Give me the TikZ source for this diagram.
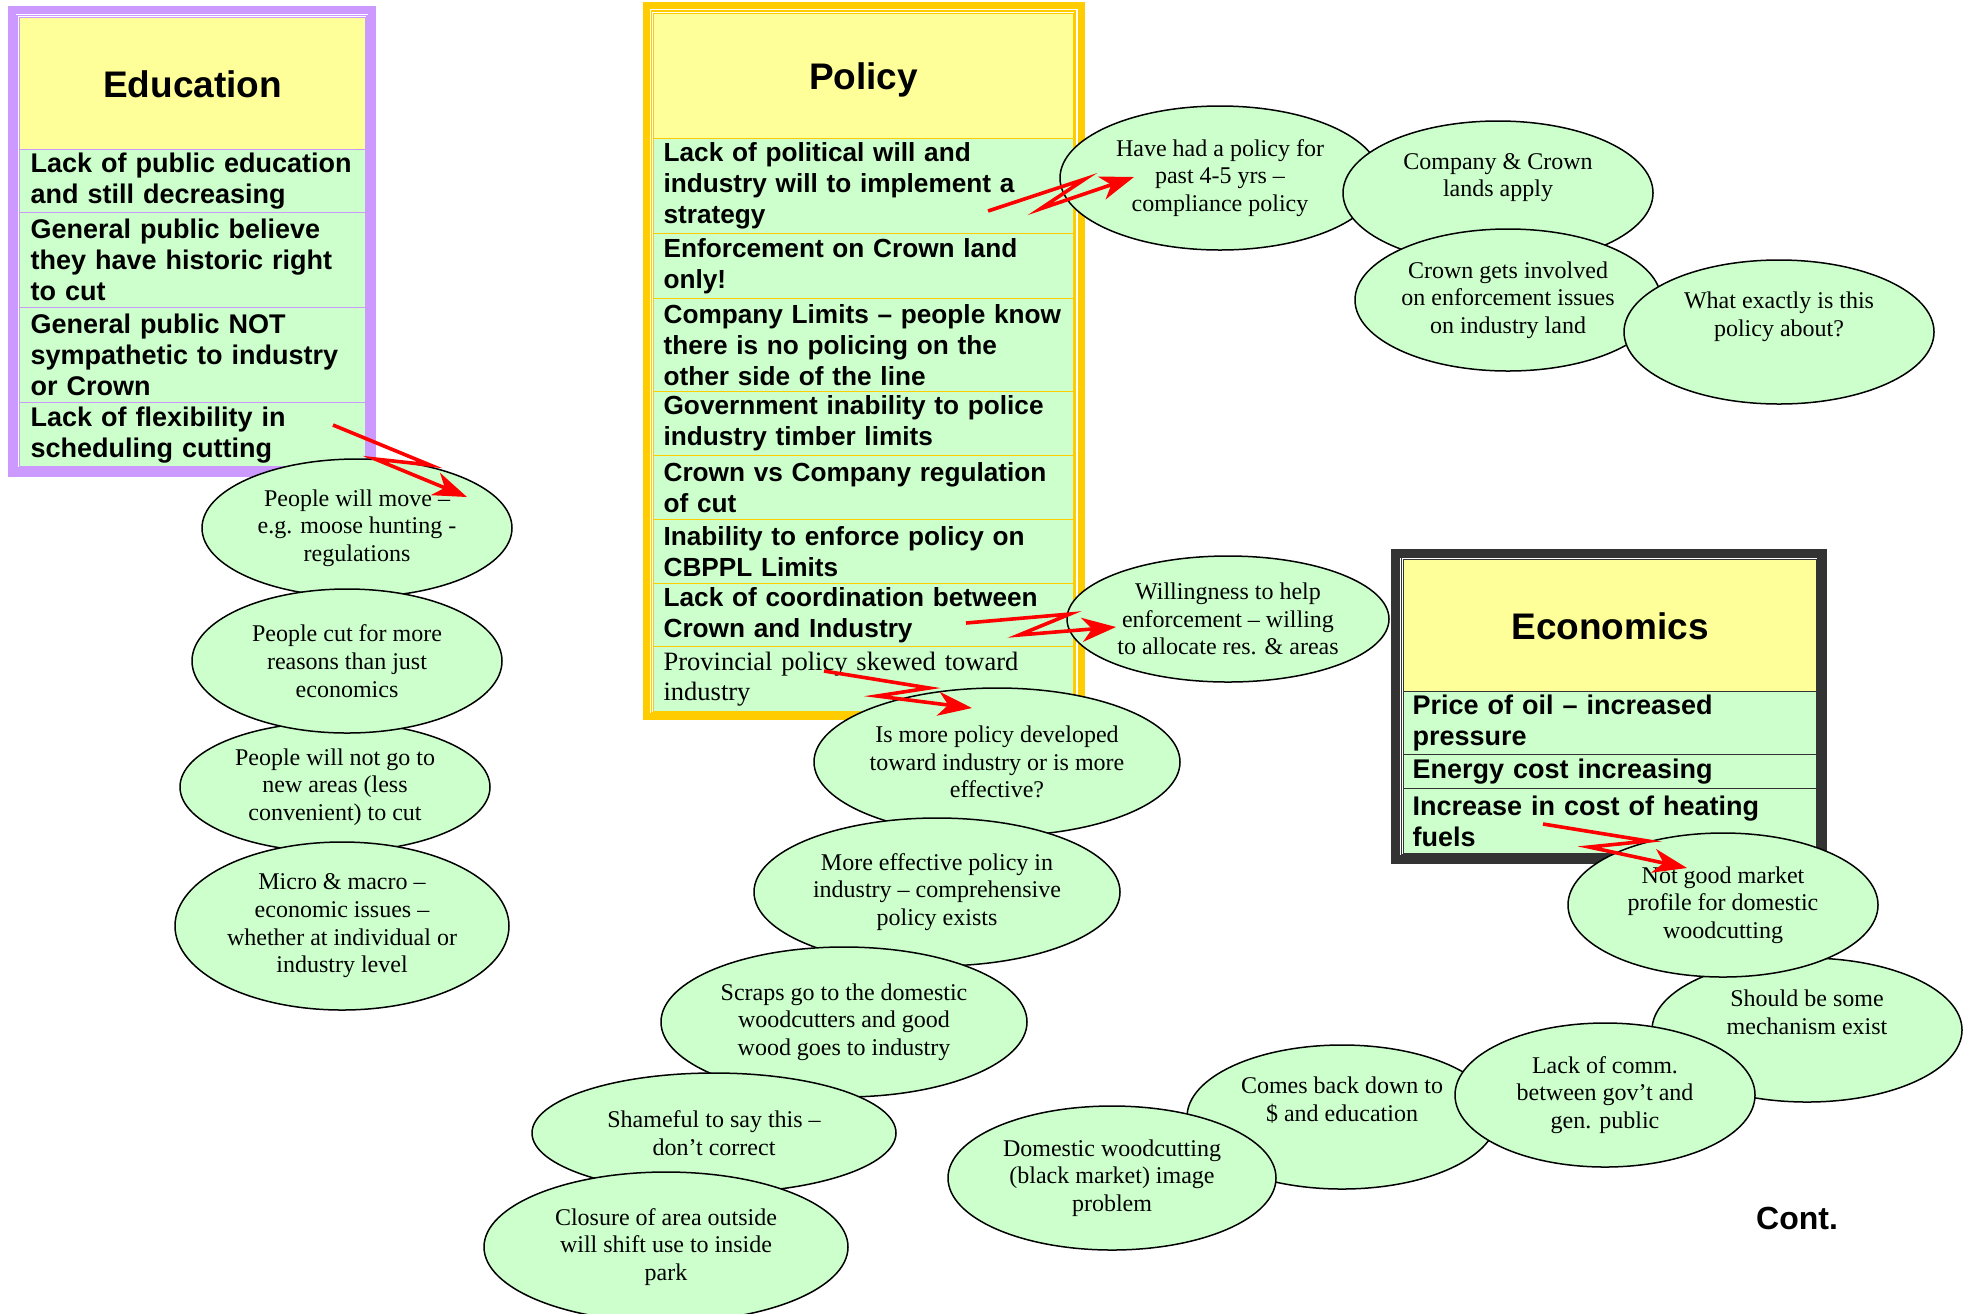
\documentclass[tikz,border=0pt]{standalone}
\usepackage{fontspec}
\setmainfont{Liberation Serif}
\newfontfamily\cellfont[Ligatures=TeX]{Liberation Sans}
\usetikzlibrary{shapes.geometric,arrows.meta}
\definecolor{cellgreen}{HTML}{CCFFCC}
\definecolor{headyellow}{HTML}{FFFF99}
\definecolor{edupurple}{HTML}{CC99FF}
\definecolor{polgold}{HTML}{FFCC00}
\definecolor{ecogray}{HTML}{333333}

\begin{document}
\begin{tikzpicture}[x=0.5pt, y=-0.5pt,
	cell/.style={draw=#1, line width=0.6pt, fill=cellgreen, anchor=north west, inner ysep=0pt, align=left,
		font=\cellfont\bfseries\fontsize{13.5}{15.5}\selectfont},
	edu/.style={cell=edupurple, inner xsep=5.5pt, text width=162pt},
	pol/.style={cell=polgold, inner xsep=5pt, text width=200pt, font=\cellfont\bfseries\fontsize{13.1}{15.5}\selectfont},
	eco/.style={cell=ecogray, inner xsep=4.5pt, text width=197.5pt},
	head/.style={draw=#1, line width=0.6pt, fill=headyellow, anchor=north west, text depth=0pt,
		font=\cellfont\bfseries\fontsize{18.5}{22}\selectfont},
	idea/.style={ellipse, draw, line width=0.75pt, fill=cellgreen, inner sep=0pt, align=center,
		font=\fontsize{12}{13.85}\selectfont},
	zap/.style={draw=red, line width=1.8pt, -{Stealth[length=17pt, width=12pt, inset=5pt]}}]
	\useasboundingbox (0,0) rectangle (1973,1313);

	% Education
	\draw[edupurple, line width=4pt] (12,10) rectangle (372,473);
	\draw[edupurple, line width=0.6pt] (17,15.5) rectangle (367,468);
	\node[head=edupurple, minimum width=173pt, minimum height=66pt] (eduhead) at (19,17) {Education};
	\node[edu, minimum height=31.5pt] (edu1) at (19,149) {Lack of public education\\and still decreasing};
	\node[edu, minimum height=47.5pt] (edu2) at (19,212) {General public believe\\they have historic right\\to cut};
	\node[edu, minimum height=47.5pt] (edu3) at (19,307) {General public NOT\\sympathetic to industry\\or Crown};
	\node[edu, minimum height=32pt] (edu4) at (19,402) {Lack of flexibility in\\scheduling cutting};

	% Policy
	\draw[polgold, line width=3.5pt] (646.5,5.5) rectangle (1081,716.5);
	\draw[polgold, line width=0.6pt] (651.5,11) rectangle (1075,712.5);
	\node[head=polgold, minimum width=210pt, minimum height=62.5pt] (polhead) at (653,13) {Policy};
	\node[pol, minimum height=47.5pt] (pol1) at (653,138) {Lack of political will and\\industry will to implement a\\strategy};
	\node[pol, minimum height=32.5pt] (pol2) at (653,233) {Enforcement on Crown land\\only!};
	\node[pol, minimum height=46.5pt] (pol3) at (653,298) {Company~Limits~–~people~know\\there is no policing on the\\other side of the line};
	\node[pol, minimum height=32pt] (pol4) at (653,391) {Government inability to police\\industry timber limits};
	\node[pol, minimum height=32pt] (pol5) at (653,455) {Crown vs Company regulation\\of cut};
	\node[pol, minimum height=32pt] (pol6) at (653,519) {Inability to enforce policy on\\CBPPL Limits};
	\node[pol, minimum height=31.5pt] (pol7) at (653,583) {Lack of coordination between\\Crown and Industry};
	\node[pol, minimum height=32.5pt, font=\fontsize{13.25}{15}\selectfont] (pol8) at (653,646) {Provincial policy skewed toward\\industry};

	% Economics
	\draw[ecogray, line width=4.5pt] (1395.5,553) rectangle (1822,859);
	\draw[ecogray, line width=0.6pt] (1401.5,557.5) rectangle (1817.5,854.5);
	\node[head=ecogray, minimum width=206.5pt, minimum height=66pt] (ecohead) at (1403,559) {Economics};
	\node[eco, minimum height=31.5pt] (eco1) at (1403,691) {Price of oil – increased\\pressure};
	\node[eco, minimum height=17pt] (eco2) at (1403,754) {Energy cost increasing};
	\node[eco, minimum height=32.5pt] (eco3) at (1403,788) {Increase in cost of heating\\fuels};

	% ideas below Education
	\node[idea, minimum width=155pt, minimum height=69pt] (move) at (357,528) {People will move --\\e.g. moose hunting -\\regulations};
	\node[idea, minimum width=155pt, minimum height=65pt] (notgo) at (335,787) {People will not go to\\new areas (less\\convenient) to cut};
	\node[idea, minimum width=155pt, minimum height=72pt] (cut) at (347,661) {People cut for more\\reasons than just\\economics};
	\node[idea, minimum width=167pt, minimum height=84pt] (micro) at (342,926) {Micro \& macro --\\economic issues --\\whether at individual or\\industry level};

	% ideas below Policy
	\node[idea, minimum width=183pt, minimum height=74pt] (ismore) at (997,762) {Is more policy developed\\toward industry or is more\\effective?};
	\node[idea, minimum width=183pt, minimum height=74pt] (moreeff) at (937,892) {More effective policy in\\industry -- comprehensive\\policy exists};
	\node[idea, minimum width=183pt, minimum height=75pt] (scraps) at (844,1022) {Scraps go to the domestic\\woodcutters and good\\wood goes to industry};
	\node[idea, minimum width=182pt, minimum height=60pt] (shame) at (714,1133) {Shameful to say this --\\don't correct};
	\node[idea, minimum width=182pt, minimum height=75pt] (closure) at (666,1247) {Closure of area outside\\will shift use to inside\\park};

	% ideas right of Policy
	\node[idea, minimum width=160pt, minimum height=72pt] (have) at (1220,178) {Have had a policy for\\past 4-5 yrs --\\compliance policy};
	\node[idea, minimum width=155pt, minimum height=72pt] (company) at (1498,193) {Company \& Crown\\lands apply\\\strut};
	\node[idea, minimum width=153pt, minimum height=71pt] (crowngets) at (1508,300) {Crown gets involved\\on enforcement issues\\on industry land};
	\node[idea, minimum width=155pt, minimum height=72pt] (whatex) at (1779,332) {What exactly is this\\policy about?\\\strut};
	\node[idea, minimum width=161pt, minimum height=63pt] (willing) at (1228,619) {Willingness to help\\enforcement -- willing\\to allocate res. \& areas};

	% ideas below Economics
	\node[idea, minimum width=155pt, minimum height=72pt] (should) at (1807,1030) {Should be some\\mechanism exist\\\strut};
	\node[idea, minimum width=155pt, minimum height=72pt] (notgood) at (1723,905) {Not good market\\profile for domestic\\woodcutting};
	\node[idea, minimum width=155pt, minimum height=72pt] (comes) at (1342,1117) {Comes back down to\\\$ and education\\\strut};
	\node[idea, minimum width=150pt, minimum height=72pt] (lack) at (1605,1095) {Lack of comm.\\between gov't and\\gen. public};
	\node[idea, minimum width=164pt, minimum height=72pt] (domestic) at (1112,1178) {Domestic woodcutting\\(black market) image\\problem};

	\node[font=\cellfont\bfseries\fontsize{16}{19}\selectfont] (cont) at (1797,1218) {Cont.};

	% zigzag arrows
	\coordinate (eduA) at (333,425);  \coordinate (eduB) at (430,465);
	\coordinate (eduC) at (375,459);  \coordinate (eduD) at (467,497);
	\coordinate (haveA) at (988,211); \coordinate (haveB) at (1085,179);
	\coordinate (haveC) at (1040,209); \coordinate (haveD) at (1134,177);
	\coordinate (willA) at (966,623); \coordinate (willB) at (1070,614);
	\coordinate (willC) at (1019,635); \coordinate (willD) at (1116,627);
	\coordinate (ismA) at (824,671);  \coordinate (ismB) at (929,688);
	\coordinate (ismC) at (877,696);  \coordinate (ismD) at (972,708);
	\coordinate (ngA) at (1543,824);  \coordinate (ngB) at (1648,841);
	\coordinate (ngC) at (1589,847);  \coordinate (ngD) at (1687,868);
	\draw[zap] (eduA) -- (eduB) -- (eduC) -- (eduD);
	\draw[zap] (haveA) -- (haveB) -- (haveC) -- (haveD);
	\draw[zap] (willA) -- (willB) -- (willC) -- (willD);
	\draw[zap] (ismA) -- (ismB) -- (ismC) -- (ismD);
	\draw[zap] (ngA) -- (ngB) -- (ngC) -- (ngD);
\end{tikzpicture}
\end{document}
